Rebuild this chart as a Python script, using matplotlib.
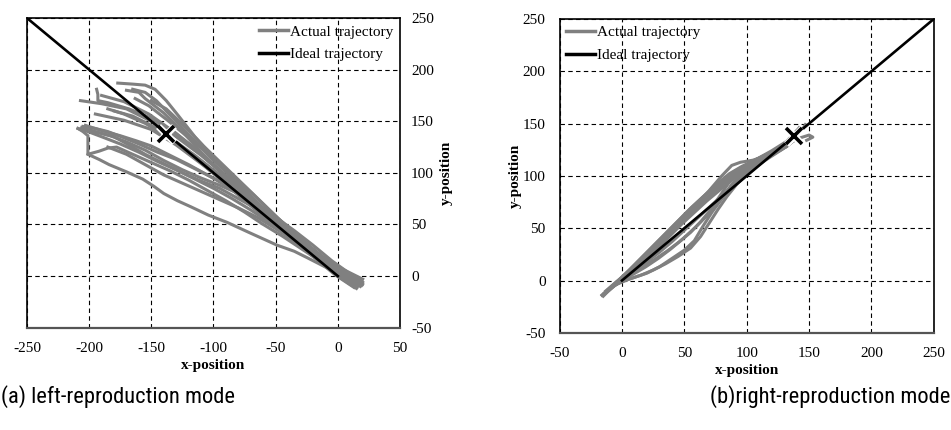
import numpy as np
import matplotlib
matplotlib.use('Agg')
import matplotlib.pyplot as plt
from matplotlib.lines import Line2D

plt.rcParams['font.family'] = ['Liberation Serif', 'DejaVu Serif']
plt.rcParams['axes.unicode_minus'] = False

# axis ranges / ticks
left_xticks = [-250, -200, -150, -100, -50, 0, 50]
right_xticks = [-50, 0, 50, 100, 150, 200, 250]
yticks = [-50, 0, 50, 100, 150, 200, 250]

# ideal trajectories (start -> end) and target points
left_ideal_x = [0, -250]
left_ideal_y = [0, 250]
right_ideal_x = [0, 250]
right_ideal_y = [0, 250]
left_target = (-138, 138)
right_target = (138, 138)

# actual trajectories, left-reproduction mode
left_paths = [
    # upper group, ends above/along the ideal line
    [(18, -8), (5, 2), (-10, 14), (-25, 28), (-40, 44), (-55, 60), (-70, 77), (-85, 96), (-100, 115), (-115, 135), (-128, 155), (-138, 170), (-147, 181), (-155, 185), (-165, 186), (-177, 187)],
    [(16, -10), (3, 1), (-12, 14), (-28, 30), (-45, 48), (-62, 66), (-80, 86), (-98, 106), (-115, 124), (-132, 140), (-150, 153), (-168, 162), (-185, 168), (-193, 170), (-193, 176), (-194, 181)],
    [(20, -6), (5, 4), (-12, 18), (-30, 35), (-50, 55), (-70, 76), (-90, 97), (-110, 117), (-130, 135), (-150, 150), (-170, 162), (-190, 167), (-207, 170)],
    [(15, -12), (0, 0), (-15, 15), (-32, 34), (-50, 54), (-68, 75), (-86, 96), (-104, 117), (-120, 137), (-134, 155), (-146, 170), (-155, 178), (-165, 181)],
    [(19, -4), (3, 6), (-14, 20), (-32, 39), (-50, 58), (-68, 79), (-86, 99), (-104, 118), (-120, 134), (-136, 150), (-152, 165), (-163, 172)],
    [(17, -7), (2, 3), (-16, 18), (-35, 38), (-55, 58), (-75, 79), (-95, 98), (-115, 117), (-135, 134), (-155, 148), (-172, 157), (-185, 162)],
    [(14, -9), (0, 3), (-18, 22), (-36, 42), (-54, 63), (-72, 84), (-90, 105), (-108, 126), (-124, 146), (-138, 162), (-150, 170)],
    [(20, -3), (5, 6), (-12, 17), (-30, 33), (-50, 51), (-70, 71), (-90, 90), (-110, 109), (-130, 127), (-150, 142), (-172, 151), (-195, 157)],
    [(18, -5), (2, 5), (-15, 19), (-33, 37), (-52, 56), (-72, 77), (-92, 98), (-112, 120), (-132, 140), (-152, 157), (-172, 169), (-190, 175)],
    [(13, -11), (-2, 1), (-20, 19), (-38, 38), (-56, 58), (-74, 78), (-92, 99), (-110, 120), (-125, 140), (-140, 158), (-155, 172), (-160, 178), (-170, 180)],
    [(19, -9), (4, 0), (-13, 14), (-32, 31), (-52, 50), (-72, 70), (-92, 91), (-112, 112), (-132, 132), (-150, 146), (-165, 155), (-180, 160)],
    # lower group, ends near (-209, 143)
    [(-209, 143), (-201, 140), (-190, 135), (-175, 128), (-160, 120), (-145, 111), (-130, 103), (-115, 94), (-100, 85), (-85, 75), (-70, 64), (-55, 52), (-40, 40), (-25, 27), (-10, 14), (5, 2), (18, -10)],
    [(-209, 143), (-205, 140), (-201, 136), (-201, 118), (-192, 121), (-185, 124), (-178, 125), (-165, 118), (-150, 110), (-135, 102), (-120, 93), (-105, 83), (-90, 73), (-75, 62), (-60, 50), (-45, 39), (-30, 27), (-15, 15), (0, 4), (15, -8)],
    [(-201, 118), (-192, 113), (-184, 108), (-170, 101), (-157, 94), (-148, 87), (-140, 80), (-129, 73), (-118, 67), (-104, 59), (-89, 52), (-71, 42), (-49, 30), (-35, 24), (-25, 18), (-12, 10), (0, 3), (15, -6)],
    [(-205, 145), (-195, 143), (-185, 140), (-172, 134), (-160, 128), (-145, 120), (-130, 113), (-115, 104), (-100, 95), (-85, 84), (-70, 72), (-55, 58), (-40, 45), (-25, 31), (-10, 16), (8, 0), (20, -8)],
    [(-207, 142), (-193, 139), (-180, 135), (-168, 127), (-155, 118), (-140, 109), (-125, 100), (-110, 92), (-95, 85), (-80, 75), (-65, 65), (-50, 52), (-35, 40), (-20, 26), (-5, 12), (16, -9)],
    [(-203, 146), (-190, 141), (-175, 136), (-162, 131), (-150, 126), (-135, 117), (-120, 108), (-105, 98), (-90, 88), (-75, 75), (-60, 62), (-45, 48), (-30, 35), (-15, 21), (0, 8), (19, -9)],
    [(-206, 144), (-195, 140), (-183, 136), (-170, 130), (-155, 122), (-140, 112), (-125, 103), (-110, 95), (-95, 88), (-80, 80), (-65, 70), (-50, 57), (-35, 44), (-20, 30), (-5, 15), (10, 2), (17, -5)],
    [(-185, 125), (-170, 118), (-155, 108), (-140, 98), (-125, 90), (-110, 82), (-95, 74), (-80, 66), (-65, 57), (-50, 46), (-35, 34), (-20, 22), (-5, 10), (12, -3)],
]

# actual trajectories, right-reproduction mode
right_paths = [
    [(-16, -14), (-8, -5), (0, 3), (10, 14), (20, 25), (30, 37), (40, 49), (50, 61), (60, 73), (70, 86), (80, 100), (88, 110), (95, 113), (105, 115), (115, 119), (125, 125), (133, 133), (138, 140)],
    [(-8, -6), (0, -1), (10, 3), (20, 7), (30, 13), (40, 21), (50, 29), (58, 38), (65, 52), (72, 65), (80, 78), (88, 92), (97, 104), (108, 113), (120, 121), (130, 128), (137, 137)],
    [(-14, -12), (-4, -2), (6, 6), (16, 13), (26, 20), (36, 28), (46, 37), (55, 46), (63, 56), (70, 66), (78, 80), (86, 94), (96, 106), (108, 116), (120, 123), (132, 130), (142, 136), (150, 139), (153, 137), (148, 134)],
    [(-15, -14), (-5, -4), (5, 8), (15, 19), (25, 30), (35, 42), (45, 53), (55, 64), (65, 75), (75, 86), (85, 96), (95, 104), (107, 113), (120, 120), (132, 128), (140, 137), (145, 145), (147, 149)],
    [(-14, -13), (-4, -1), (6, 10), (16, 22), (26, 34), (36, 46), (46, 58), (56, 70), (66, 81), (76, 92), (86, 102), (96, 109), (108, 116), (120, 124), (132, 133), (140, 143)],
    [(-12, -11), (-2, -1), (8, 9), (18, 19), (28, 30), (38, 42), (48, 54), (58, 65), (68, 76), (78, 86), (88, 96), (98, 105), (110, 114), (122, 123), (133, 133), (141, 141)],
    [(-10, -8), (0, 1), (10, 9), (20, 18), (30, 27), (40, 37), (50, 48), (60, 59), (70, 70), (80, 81), (90, 92), (100, 102), (112, 113), (124, 124), (134, 134), (142, 146)],
    [(-15, -15), (-5, -3), (5, 9), (15, 21), (25, 33), (35, 45), (45, 57), (55, 69), (65, 80), (75, 90), (85, 98), (95, 106), (107, 113), (120, 120), (132, 128), (140, 136)],
    [(-5, -4), (5, 1), (15, 5), (25, 10), (35, 16), (45, 23), (55, 31), (63, 42), (70, 55), (77, 68), (84, 80), (92, 92), (102, 104), (115, 115), (128, 125), (137, 133), (141, 138)],
    [(-16, -14), (-6, -4), (4, 7), (14, 19), (24, 31), (34, 43), (44, 55), (54, 67), (64, 78), (74, 89), (84, 99), (94, 107), (106, 114), (118, 120), (130, 129), (138, 136), (140, 140)],
    [(-13, -10), (-3, 0), (7, 10), (17, 21), (27, 32), (37, 44), (47, 56), (57, 67), (67, 78), (77, 89), (87, 99), (97, 108), (109, 116), (121, 123), (133, 131), (139, 137), (144, 144)],
    [(-11, -9), (-1, -1), (9, 6), (19, 13), (29, 21), (39, 30), (49, 40), (59, 51), (69, 63), (79, 77), (89, 91), (99, 103), (110, 112), (122, 121), (134, 131), (139, 138)],
]

GRAY = '#808080'
LW = 2.2


def draw_panel(ax, paths, ideal_x, ideal_y, target, xticks, right_axis, legend_loc):
    for p in paths:
        xs, ys = zip(*p)
        ax.plot(xs, ys, color=GRAY, lw=LW, solid_joinstyle='round', zorder=2)
    ax.plot(ideal_x, ideal_y, color='black', lw=1.9, zorder=3)
    ax.plot(*target, marker='x', ms=12, mew=5, color='white', zorder=4)
    ax.plot(*target, marker='x', ms=11, mew=2.6, color='black', zorder=5)

    ax.set_xlim(xticks[0], xticks[-1])
    ax.set_ylim(yticks[0], yticks[-1])
    ax.set_xticks(xticks)
    ax.set_yticks(yticks)
    ax.grid(True, color='black', ls=(0, (4, 3)), lw=0.8)
    ax.tick_params(length=0, labelsize=11, pad=10)
    ax.set_xlabel('x-position', fontsize=11, fontweight='bold', labelpad=3)
    if right_axis:
        ax.yaxis.tick_right()
        ax.yaxis.set_label_position('right')
        ax.tick_params(axis='y', pad=8)
        ax.set_ylabel('y-position', fontsize=11, fontweight='bold', labelpad=4)
    else:
        ax.tick_params(axis='y', pad=10)
        ax.set_ylabel('y-position', fontsize=11, fontweight='bold', labelpad=1)
    for s in ax.spines.values():
        s.set_color('black')
        s.set_linewidth(1.2)
    ax.spines['bottom'].set_color('#555555')
    ax.spines['bottom'].set_linewidth(1.6)

    handles = [Line2D([], [], color=GRAY, lw=2.5), Line2D([], [], color='black', lw=2.5)]
    ax.legend(handles, ['Actual trajectory', 'Ideal trajectory'], loc=legend_loc,
              frameon=False, fontsize=11, handlelength=1.9, handletextpad=0.1,
              labelspacing=0.6, borderaxespad=0.05)


fig = plt.figure(figsize=(9.51, 4.30), dpi=100)
ax1 = fig.add_axes([0.0284, 0.238, 0.3922, 0.720])
ax2 = fig.add_axes([0.5884, 0.226, 0.3936, 0.730])

draw_panel(ax1, left_paths, left_ideal_x, left_ideal_y, left_target, left_xticks, True, 'upper right')
draw_panel(ax2, right_paths, right_ideal_x, right_ideal_y, right_target, right_xticks, False, 'upper left')

cap_font = ['Roboto Condensed', 'Roboto']
fig.text(0.001, 0.077, '(a) left-reproduction mode', ha='left', va='center',
         fontsize=16.2, family=cap_font, stretch='condensed')
fig.text(0.999, 0.077, '(b)right-reproduction mode', ha='right', va='center',
         fontsize=16.2, family=cap_font, stretch='condensed')

fig.savefig('out.png', dpi=100)
